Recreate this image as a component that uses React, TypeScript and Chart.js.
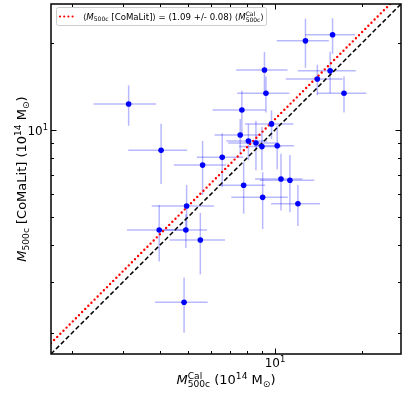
import React, { useEffect, useRef } from "react";
import { Chart, registerables } from "chart.js";
Chart.register(...registerables);

// M500c^Cal (10^14 Msun)
const massCal = [3.13, 4.05, 5.63, 6.58, 7.59, 7.69, 9.2, 9.31, 12.74, 15.8, 15.5, 14.0, 17.3, 9.73, 8.1, 8.6, 9.02, 10.18, 7.8, 10.49, 11.26, 9.07, 12.0, 4.96, 3.99, 4.93, 5.53, 4.86];
// M500c [CoMaLit] (10^14 Msun)
const massLit = [12.3, 8.51, 7.57, 8.05, 9.61, 11.72, 16.1, 13.4, 20.3, 21.3, 16.0, 15.0, 13.4, 10.5, 9.17, 9.02, 8.77, 8.83, 6.45, 6.78, 6.71, 5.86, 5.57, 5.47, 4.52, 4.52, 4.18, 2.55];
const errCal = [0.76, 0.93, 1.15, 1.2, 1.4, 1.6, 1.85, 1.9, 2.6, 3.1, 3.5, 3.1, 3.35, 1.85, 1.3, 1.7, 1.5, 1.45, 1.45, 1.95, 2.4, 2.0, 2.3, 1.2, 0.9, 0.9, 1.2, 1.0];
const errLit = [1.95, 2.0, 1.6, 1.7, 1.3, 1.95, 2.5, 1.9, 3.9, 3.0, 2.6, 1.8, 1.9, 1.2, 1.3, 1.75, 1.5, 1.5, 1.3, 1.5, 1.5, 1.3, 0.9, 1.0, 1.0, 0.6, 1.0, 0.55];

const axisMin = 1.69;
const axisMax = 27.2;
const slope = 1.09;
const minorTicks = [2, 3, 4, 5, 6, 7, 8, 9, 20];
const majorTicks = [10];
const majorLabel = ["10", "1"];

const FONT = '"DejaVu Sans"';

type Seg = { t?: string; it?: boolean; pos?: "sup" | "sub"; sup?: string; sub?: string };

function segWidth(ctx: CanvasRenderingContext2D, s: Seg, size: number) {
  if (s.sup !== undefined || s.sub !== undefined) {
    ctx.font = `${size * 0.7}px ${FONT}`;
    return Math.max(ctx.measureText(s.sup || "").width, ctx.measureText(s.sub || "").width);
  }
  const sz = s.pos ? size * 0.7 : size;
  ctx.font = `${s.it ? "oblique " : ""}${sz}px ${FONT}`;
  return ctx.measureText(s.t || "").width;
}

function drawRich(ctx: CanvasRenderingContext2D, segs: Seg[], x: number, y: number, size: number, align: "center" | "left" | "right") {
  const widths = segs.map((s) => segWidth(ctx, s, size));
  const total = widths.reduce((a, b) => a + b, 0);
  let cx = align === "center" ? x - total / 2 : align === "right" ? x - total : x;
  ctx.textBaseline = "alphabetic";
  ctx.textAlign = "left";
  segs.forEach((s, i) => {
    if (s.sup !== undefined || s.sub !== undefined) {
      ctx.font = `${size * 0.7}px ${FONT}`;
      if (s.sup) ctx.fillText(s.sup, cx, y - size * 0.42);
      if (s.sub) ctx.fillText(s.sub, cx, y + size * 0.25);
    } else {
      const sz = s.pos ? size * 0.7 : size;
      ctx.font = `${s.it ? "oblique " : ""}${sz}px ${FONT}`;
      const dy = s.pos === "sup" ? -size * 0.4 : s.pos === "sub" ? size * 0.22 : 0;
      ctx.fillText(s.t || "", cx, y + dy);
    }
    cx += widths[i];
  });
}

export default function App() {
  const ref = useRef<HTMLCanvasElement>(null);
  useEffect(() => {
    const canvas = ref.current!;
    const overlay = {
      id: "overlay",
      beforeDatasetsDraw(chart: any) {
        const { ctx, chartArea: a, scales } = chart;
        const x = scales.x, y = scales.y;
        ctx.save();
        ctx.beginPath();
        ctx.rect(a.left, a.top, a.right - a.left, a.bottom - a.top);
        ctx.clip();
        ctx.strokeStyle = "rgba(0,0,255,0.28)";
        ctx.lineWidth = 1.5;
        massCal.forEach((m, i) => {
          const px = x.getPixelForValue(m);
          const py = y.getPixelForValue(massLit[i]);
          ctx.beginPath();
          ctx.moveTo(x.getPixelForValue(m - errCal[i]), py);
          ctx.lineTo(x.getPixelForValue(m + errCal[i]), py);
          ctx.stroke();
          ctx.beginPath();
          ctx.moveTo(px, y.getPixelForValue(massLit[i] - errLit[i]));
          ctx.lineTo(px, y.getPixelForValue(massLit[i] + errLit[i]));
          ctx.stroke();
        });
        ctx.restore();
      },
      afterDraw(chart: any) {
        const { ctx, chartArea: a, scales } = chart;
        const x = scales.x, y = scales.y;
        ctx.save();
        // ticks
        ctx.strokeStyle = "#000";
        ctx.lineWidth = 1;
        const drawTicks = (vals: number[], len: number) => {
          vals.forEach((v) => {
            const px = Math.round(x.getPixelForValue(v)) + 0.5;
            const py = Math.round(y.getPixelForValue(v)) + 0.5;
            ctx.beginPath();
            ctx.moveTo(px, a.bottom); ctx.lineTo(px, a.bottom - len);
            ctx.moveTo(px, a.top); ctx.lineTo(px, a.top + len);
            ctx.moveTo(a.left, py); ctx.lineTo(a.left + len, py);
            ctx.moveTo(a.right, py); ctx.lineTo(a.right - len, py);
            ctx.stroke();
          });
        };
        drawTicks(minorTicks, 3);
        drawTicks(majorTicks, 5.5);
        // frame
        ctx.lineWidth = 1.5;
        ctx.strokeRect(a.left, a.top, a.right - a.left, a.bottom - a.top);
        // tick labels
        ctx.fillStyle = "#000";
        majorTicks.forEach((v) => {
          const segs: Seg[] = [{ t: majorLabel[0] }, { t: majorLabel[1], pos: "sup" }];
          drawRich(ctx, segs, x.getPixelForValue(v), a.bottom + 13, 12, "center");
          drawRich(ctx, segs, a.left - 3, y.getPixelForValue(v) + 5, 12, "right");
        });
        // axis titles
        drawRich(
          ctx,
          [{ t: "M", it: true }, { sup: "Cal", sub: "500c" }, { t: " (10" }, { t: "14", pos: "sup" }, { t: " M" }, { t: "⊙", pos: "sub" }, { t: ")" }],
          (a.left + a.right) / 2, 384, 13, "center"
        );
        ctx.save();
        ctx.translate(26, (a.top + a.bottom) / 2);
        ctx.rotate(-Math.PI / 2);
        drawRich(
          ctx,
          [{ t: "M", it: true }, { t: "500c", pos: "sub" }, { t: " [CoMaLit] (10" }, { t: "14", pos: "sup" }, { t: " M" }, { t: "⊙", pos: "sub" }, { t: ")" }],
          0, 0, 13, "center"
        );
        ctx.restore();
        // legend
        const lx = a.left + 5, ly = a.top + 3, lw = 210, lh = 18;
        ctx.fillStyle = "rgba(255,255,255,0.85)";
        ctx.strokeStyle = "#cccccc";
        ctx.lineWidth = 1;
        ctx.beginPath();
        (ctx as any).roundRect(lx + 0.5, ly + 0.5, lw, lh, 2);
        ctx.fill();
        ctx.stroke();
        ctx.strokeStyle = "red";
        ctx.lineWidth = 2.2;
        ctx.lineCap = "round";
        ctx.setLineDash([0, 4.2]);
        ctx.beginPath();
        ctx.moveTo(lx + 4, ly + 9.5);
        ctx.lineTo(lx + 18, ly + 9.5);
        ctx.stroke();
        ctx.setLineDash([]);
        ctx.fillStyle = "#000";
        drawRich(
          ctx,
          [{ t: "⟨" }, { t: "M", it: true }, { t: "500c", pos: "sub" }, { t: " [CoMaLit]⟩ = (1.09 +/- 0.08) ⟨" }, { t: "M", it: true }, { sup: "Cal", sub: "500c" }, { t: "⟩" }],
          lx + 27, ly + 12.5, 8.6, "left"
        );
        ctx.restore();
      },
    };

    const chart = new Chart(canvas, {
      type: "scatter",
      data: {
        datasets: [
          {
            type: "scatter",
            data: massCal.map((m, i) => ({ x: m, y: massLit[i] })),
            backgroundColor: "#0000ff",
            borderColor: "#0000ff",
            pointRadius: 2.8,
            pointBorderWidth: 0,
            order: 0,
          },
          {
            type: "line",
            data: [
              { x: axisMin, y: axisMin * slope },
              { x: axisMax, y: axisMax * slope },
            ],
            borderColor: "red",
            borderWidth: 2.4,
            borderDash: [0, 4.4],
            borderCapStyle: "round",
            pointRadius: 0,
            fill: false,
            order: 1,
          },
          {
            type: "line",
            data: [
              { x: axisMin, y: axisMin },
              { x: axisMax, y: axisMax },
            ],
            borderColor: "black",
            borderWidth: 1.5,
            borderDash: [4.5, 2.5],
            pointRadius: 0,
            fill: false,
            order: 2,
          },
        ],
      } as any,
      options: {
        animation: false,
        responsive: false,
        devicePixelRatio: 1,
        layout: { padding: { top: 4, right: 14, left: 0, bottom: 0 } },
        plugins: { legend: { display: false }, tooltip: { enabled: false } },
        scales: {
          x: {
            type: "logarithmic",
            min: axisMin,
            max: axisMax,
            grid: { display: false, drawTicks: false },
            border: { display: false },
            ticks: { display: false },
            afterFit: (s: any) => { s.height = 40; },
          },
          y: {
            type: "logarithmic",
            min: axisMin,
            max: axisMax,
            grid: { display: false, drawTicks: false },
            border: { display: false },
            ticks: { display: false },
            afterFit: (s: any) => { s.width = 51; },
          },
        },
      } as any,
      plugins: [overlay],
    });
    return () => chart.destroy();
  }, []);

  return (
    <div style={{ position: "absolute", left: 0, top: 0, width: 415, height: 394, background: "#fff" }}>
      <canvas ref={ref} width={415} height={394} style={{ display: "block" }} />
    </div>
  );
}
